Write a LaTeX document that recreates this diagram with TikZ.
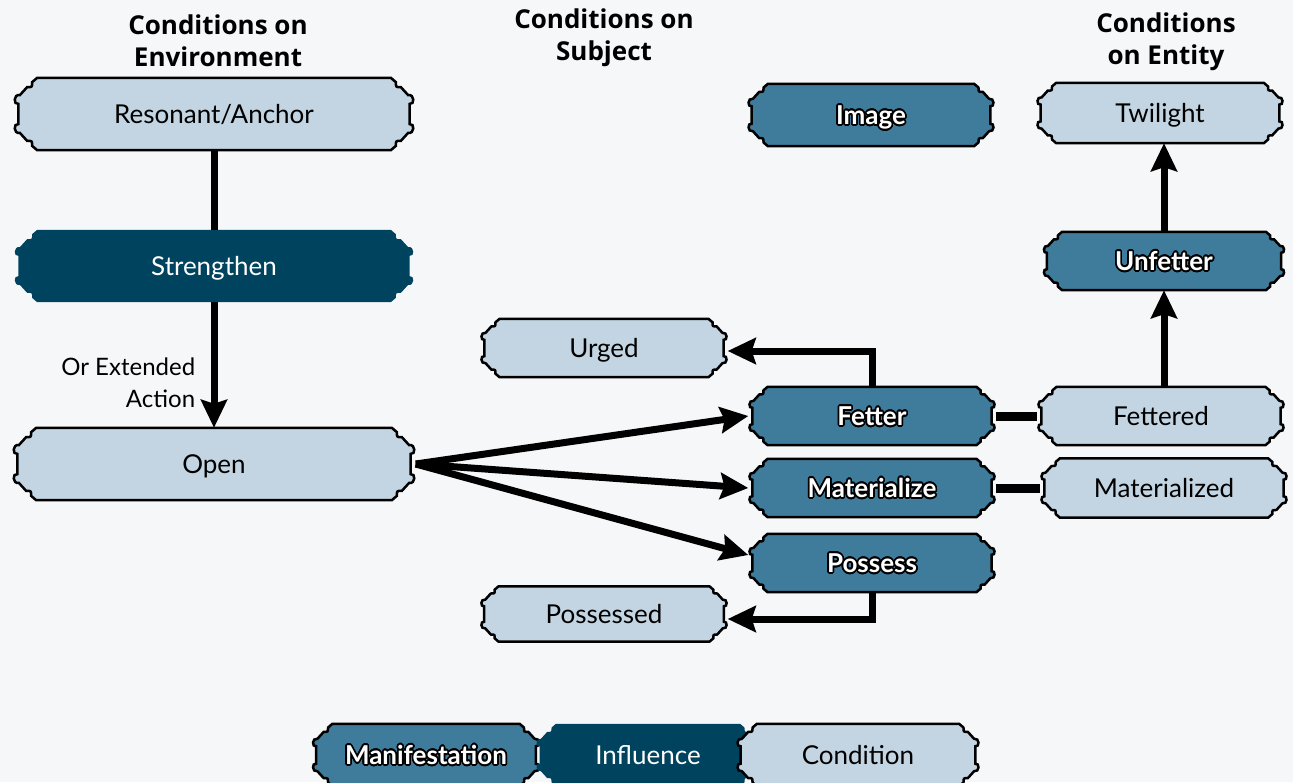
\documentclass[tikz,border=0pt]{standalone}
\usepackage{fontspec}
\usepackage{xcolor}
\usepackage{contour}
\usepackage{tikz}
\usetikzlibrary{arrows.meta,calc,backgrounds}

\setmainfont{Lato}
\newfontfamily\headfont{Open Sans}
\definecolor{condfill}{HTML}{C3D5E2}
\definecolor{manifill}{HTML}{3F7B9A}
\definecolor{inflfill}{HTML}{00435F}
\definecolor{paper}{HTML}{F6F7F9}

\contourlength{1.6pt}
\contournumber{24}
% white letters, black outline
\newcommand{\mani}[1]{\contour{black}{\textcolor{white}{#1}}}

% scalloped plaque drawn round a node
\newcommand{\plaque}[2]{%
  \path[#2] let \p1=(#1.north west), \p2=(#1.south east), \n1={\y1-(\y2)} in
  ({\x1+0.33*\n1},\y1) -- ({\x2-0.33*\n1},\y1)
  -- ({\x2-0.26*\n1},{\y1-0.06*\n1})
  .. controls ({\x2-0.26*\n1},{\y1-0.13*\n1}) .. ({\x2-0.19*\n1},{\y1-0.13*\n1})
  -- ({\x2-0.09*\n1},{\y1-0.24*\n1})
  .. controls (\x2,{\y1-0.22*\n1}) and (\x2,{\y1-0.38*\n1}) .. ({\x2-0.07*\n1},{\y1-0.36*\n1})
  -- ({\x2-0.07*\n1},{\y1-0.64*\n1})
  .. controls (\x2,{\y1-0.62*\n1}) and (\x2,{\y1-0.78*\n1}) .. ({\x2-0.09*\n1},{\y1-0.76*\n1})
  -- ({\x2-0.19*\n1},{\y1-0.87*\n1})
  .. controls ({\x2-0.26*\n1},{\y1-0.87*\n1}) .. ({\x2-0.26*\n1},{\y1-0.94*\n1})
  -- ({\x2-0.33*\n1},\y2) -- ({\x1+0.33*\n1},\y2)
  -- ({\x1+0.26*\n1},{\y1-0.94*\n1})
  .. controls ({\x1+0.26*\n1},{\y1-0.87*\n1}) .. ({\x1+0.19*\n1},{\y1-0.87*\n1})
  -- ({\x1+0.09*\n1},{\y1-0.76*\n1})
  .. controls (\x1,{\y1-0.78*\n1}) and (\x1,{\y1-0.62*\n1}) .. ({\x1+0.07*\n1},{\y1-0.64*\n1})
  -- ({\x1+0.07*\n1},{\y1-0.36*\n1})
  .. controls (\x1,{\y1-0.38*\n1}) and (\x1,{\y1-0.22*\n1}) .. ({\x1+0.09*\n1},{\y1-0.24*\n1})
  -- ({\x1+0.19*\n1},{\y1-0.13*\n1})
  .. controls ({\x1+0.26*\n1},{\y1-0.13*\n1}) .. ({\x1+0.26*\n1},{\y1-0.06*\n1})
  -- cycle;}

\tikzset{
  plq/.style={inner sep=0pt, minimum width=247, minimum height=58,
    text height=19pt, text depth=0pt},
  cond/.style={plq, font=\fontsize{26}{30}\selectfont},
  infl/.style={plq, text=white, font=\fontsize{26}{30}\selectfont},
  manif/.style={plq, font=\fontsize{26}{30}\selectfont\bfseries},
  head/.style={align=center, font=\headfont\fontsize{26}{32}\selectfont\bfseries},
  condp/.style={fill=condfill, draw=black, line width=2.5pt},
  manip/.style={fill=manifill, draw=black, line width=2.5pt},
  inflp/.style={fill=inflfill},
  link/.style={line width=7pt},
  arrow/.style={link, -{Stealth[length=28pt,width=26pt,inset=4pt]}},
}

\begin{document}
\begin{tikzpicture}[x=1pt, y=-1pt]
\useasboundingbox (0,0) rectangle (1293,782);

% headings
\node[head] (henv) at (218,41) {Conditions on\\Environment};
\node[head] (hsub) at (604,38) {Conditions on\\Subject};
\node[head] (hent) at (1166,42) {Conditions\\on Entity};

% environment
\node[cond, minimum width=401, minimum height=72] (anchor) at (214,114) {Resonant/Anchor};
\node[infl, minimum width=401, minimum height=72] (strengthen) at (214,266) {Strengthen};
\node[cond, minimum width=403, minimum height=72] (open) at (214,464) {Open};

% subject
\node[manif, minimum height=62] (image) at (871,115) {\mani{Image}};
\node[cond] (urged) at (604,348) {Urged};
\node[manif] (fetter) at (872,416) {\mani{Fetter}};
\node[manif] (materialize) at (872,488) {\mani{Materialize}};
\node[manif] (possess) at (872,563) {\mani{Possess}};
\node[cond, minimum height=55] (possessed) at (604,614) {Possessed};

% entity
\node[cond, minimum height=60] (twilight) at (1160,113) {Twilight};
\node[manif, minimum width=242] (unfetter) at (1164,261) {\mani{Unfetter}};
\node[cond] (fettered) at (1161,416) {Fettered};
\node[cond, minimum height=59] (materialized) at (1164,488) {Materialized};

% legend
\node[manif, minimum width=228, minimum height=62] (lmani) at (426,755) {\mani{Manifestation}};
\node[infl, minimum width=225, minimum height=62] (linfl) at (648,755) {Influence};
\node[cond, minimum width=243, minimum height=62] (lcond) at (858,755) {Condition};

\begin{scope}[on background layer]
\fill[paper] (0,0) rectangle (1293,782);
\foreach \nm/\st in {anchor/condp, strengthen/inflp, open/condp, image/manip,
  urged/condp, fetter/manip, materialize/manip, possess/manip, possessed/condp,
  twilight/condp, unfetter/manip, fettered/condp, materialized/condp,
  lmani/manip, linfl/inflp, lcond/condp}
  \plaque{\nm}{\st};
\end{scope}

\draw[link] (anchor) -- (strengthen);
\draw[arrow] (strengthen) -- node[pos=0.64, left=12pt, align=right, font=\fontsize{24}{32}\selectfont] (note) {Or Extended\\Action} (open);
\draw[arrow] (open.east) -- (fetter.west);
\draw[arrow] (open.east) -- (materialize.west);
\draw[arrow] (open.east) -- ([yshift=8pt]possess.west);
\draw[arrow] (fetter.north) |- ([yshift=-3pt]urged.east);
\draw[arrow] (possess.south) |- ([yshift=-5pt]possessed.east);
\draw[link, line width=9pt] (fetter) -- (fettered);
\draw[link, line width=9pt] (materialize) -- (materialized);
\draw[arrow] (fettered.north -| unfetter) -- (unfetter);
\draw[arrow] (unfetter.north) -- (unfetter.north |- twilight.south);
\end{tikzpicture}
\end{document}
